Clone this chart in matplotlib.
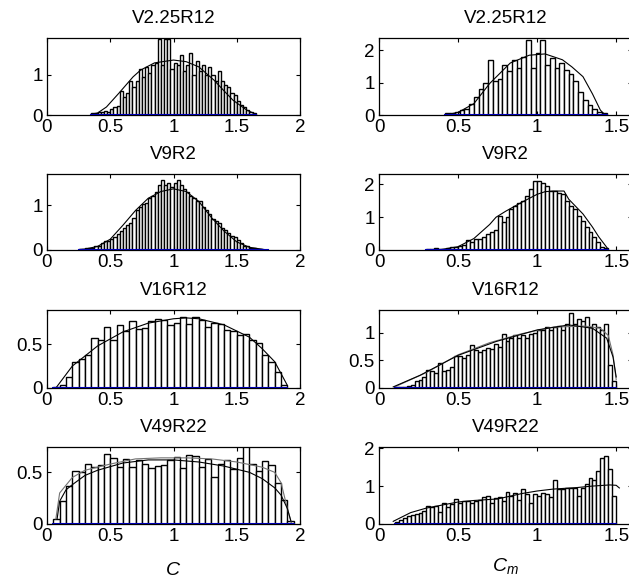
import numpy as np
import matplotlib
matplotlib.use("Agg")
import matplotlib.pyplot as plt
from matplotlib.ticker import FuncFormatter

plt.rcParams['font.family'] = ['Liberation Sans', 'DejaVu Sans']
plt.rcParams['font.size'] = 13.5
plt.rcParams['mathtext.fontset'] = 'custom'
plt.rcParams['mathtext.it'] = 'Liberation Sans:italic'
plt.rcParams['mathtext.rm'] = 'Liberation Sans'

titles = ["V2.25R12", "V9R2", "V16R12", "V49R22"]

# --- left column (C) ---
# histogram: first bin left edge, bin width, bar heights
c1_start, c1_width = 0.35, 0.025
c1_hist = [0.05, 0.05, 0.07, 0.08, 0.10, 0.08, 0.15, 0.20, 0.22, 0.60, 0.45, 0.55, 0.85,
           0.70, 0.85, 1.15, 0.95, 1.20, 1.05, 1.25, 1.30, 1.90, 1.25, 1.90, 1.90, 1.15,
           1.30, 1.25, 1.50, 1.10, 1.25, 1.55, 1.00, 1.35, 1.10, 1.25, 1.00, 1.20, 1.00,
           0.85, 1.10, 0.85, 0.75, 0.70, 0.55, 0.50, 0.35, 0.25, 0.20, 0.12, 0.08, 0.05]
c1_fit_x = [0.35, 0.40, 0.47, 0.57, 0.68, 0.74, 0.85, 1.00, 1.10, 1.20, 1.32, 1.40, 1.47, 1.58, 1.65]
c1_fit_y = [0.02, 0.05, 0.20, 0.55, 0.95, 1.12, 1.30, 1.37, 1.33, 1.20, 0.87, 0.60, 0.37, 0.12, 0.02]

c2_start, c2_width = 0.25, 0.025
c2_hist = [0.02, 0.03, 0.04, 0.05, 0.05, 0.10, 0.10, 0.15, 0.20, 0.20, 0.25, 0.30, 0.35,
           0.42, 0.48, 0.55, 0.60, 0.72, 0.90, 0.95, 1.02, 1.05, 1.15, 1.20, 1.30, 1.45,
           1.55, 1.45, 1.50, 1.40, 1.50, 1.55, 1.45, 1.35, 1.30, 1.20, 1.15, 1.10, 1.08,
           0.95, 0.88, 0.80, 0.70, 0.65, 0.60, 0.50, 0.45, 0.38, 0.32, 0.30, 0.22, 0.15,
           0.10, 0.08, 0.05, 0.04, 0.03, 0.02, 0.01, 0.01]
c2_fit_x = [0.25, 0.30, 0.40, 0.50, 0.60, 0.70, 0.80, 0.90, 1.00, 1.10, 1.20, 1.30, 1.40, 1.45, 1.50, 1.60, 1.72]
c2_fit_y = [0.01, 0.02, 0.08, 0.24, 0.55, 0.88, 1.15, 1.30, 1.36, 1.30, 1.08, 0.72, 0.42, 0.30, 0.18, 0.06, 0.01]

c3_start, c3_width = 0.05, 0.05
c3_hist = [0.01, 0.03, 0.12, 0.30, 0.33, 0.38, 0.57, 0.55, 0.70, 0.55, 0.72, 0.65, 0.77,
           0.67, 0.69, 0.77, 0.79, 0.78, 0.72, 0.74, 0.81, 0.73, 0.81, 0.78, 0.70, 0.74,
           0.73, 0.66, 0.65, 0.60, 0.62, 0.55, 0.51, 0.38, 0.30, 0.18, 0.03]
c3_fit_x = [0.07, 0.20, 0.40, 0.60, 0.80, 1.00, 1.10, 1.20, 1.40, 1.60, 1.70, 1.80, 1.90]
c3_fit_y = [0.00, 0.25, 0.48, 0.64, 0.74, 0.79, 0.80, 0.79, 0.72, 0.58, 0.45, 0.30, 0.03]

c4_start, c4_width = 0.05, 0.05
c4_hist = [0.05, 0.22, 0.37, 0.51, 0.50, 0.58, 0.55, 0.57, 0.68, 0.64, 0.55, 0.63, 0.55,
           0.62, 0.58, 0.54, 0.56, 0.57, 0.62, 0.65, 0.54, 0.67, 0.66, 0.55, 0.63, 0.45,
           0.58, 0.62, 0.53, 0.64, 0.78, 0.58, 0.51, 0.61, 0.57, 0.40, 0.23, 0.03]
c4_fit_x = [0.08, 0.10, 0.15, 0.20, 0.30, 0.40, 0.60, 0.80, 1.00, 1.20, 1.40, 1.60, 1.70, 1.80, 1.85, 1.90, 1.93]
c4_fit_y = [0.05, 0.22, 0.33, 0.38, 0.47, 0.52, 0.59, 0.62, 0.62, 0.60, 0.56, 0.50, 0.44, 0.35, 0.28, 0.15, 0.02]
c4_est_x = [0.07, 0.10, 0.20, 0.30, 0.50, 0.70, 0.90, 1.10, 1.30, 1.50, 1.70, 1.80, 1.85, 1.90, 1.93]
c4_est_y = [0.05, 0.30, 0.45, 0.52, 0.58, 0.63, 0.64, 0.64, 0.63, 0.60, 0.55, 0.50, 0.40, 0.15, 0.02]

# --- right column (C_m) ---
m1_start, m1_width = 0.42, 0.03
m1_hist = [0.05, 0.06, 0.10, 0.15, 0.20, 0.35, 0.55, 0.80, 1.00, 1.70, 1.05, 1.10, 1.55,
           1.35, 1.70, 1.45, 1.80, 2.30, 1.45, 1.90, 2.30, 1.55, 1.75, 1.45, 1.60, 1.40,
           1.25, 1.05, 0.70, 0.45, 0.30, 0.20, 0.10, 0.05]
m1_fit_x = [0.42, 0.50, 0.60, 0.70, 0.83, 0.95, 1.05, 1.16, 1.22, 1.29, 1.35, 1.40, 1.43]
m1_fit_y = [0.00, 0.08, 0.35, 0.97, 1.60, 1.84, 1.88, 1.70, 1.48, 1.18, 0.65, 0.15, 0.00]

m2_start, m2_width = 0.30, 0.025
m2_hist = [0.02, 0.02, 0.05, 0.02, 0.03, 0.05, 0.10, 0.08, 0.12, 0.15, 0.30, 0.25, 0.35,
           0.35, 0.40, 0.50, 0.55, 0.60, 1.05, 0.85, 1.00, 1.25, 1.35, 1.45, 1.50, 1.65,
           1.85, 2.10, 2.10, 2.05, 1.95, 1.80, 1.80, 1.75, 1.70, 1.50, 1.35, 1.25, 1.05,
           0.90, 0.70, 0.55, 0.40, 0.25, 0.10, 0.05]
m2_fit_x = [0.35, 0.40, 0.50, 0.60, 0.70, 0.74, 0.80, 0.90, 1.00, 1.05, 1.10, 1.17, 1.20, 1.29, 1.35, 1.39, 1.45]
m2_fit_y = [0.00, 0.02, 0.10, 0.35, 0.78, 1.00, 1.18, 1.45, 1.70, 1.78, 1.80, 1.80, 1.55, 1.10, 0.70, 0.40, 0.02]

m3_start, m3_width = 0.10, 0.025
m3_hist = [0.01, 0.02, 0.02, 0.03, 0.06, 0.12, 0.15, 0.20, 0.32, 0.30, 0.28, 0.45, 0.30,
           0.32, 0.38, 0.58, 0.58, 0.55, 0.60, 0.78, 0.68, 0.65, 0.68, 0.72, 0.70, 0.80,
           0.75, 0.98, 0.85, 0.90, 0.95, 0.90, 0.95, 0.90, 0.98, 1.00, 1.05, 1.05, 1.10,
           1.05, 1.10, 1.12, 1.05, 1.15, 1.35, 1.15, 1.25, 1.22, 1.28, 1.10, 1.15, 1.10,
           1.05, 1.15, 0.42, 0.12]
m3_fit_x = [0.09, 0.26, 0.50, 0.74, 1.00, 1.20, 1.35, 1.44, 1.48, 1.50]
m3_fit_y = [0.02, 0.23, 0.59, 0.84, 1.05, 1.14, 1.08, 0.90, 0.56, 0.20]
m3_est_x = [0.10, 0.30, 0.50, 0.70, 0.90, 1.10, 1.30, 1.40, 1.45, 1.48, 1.50]
m3_est_y = [0.02, 0.28, 0.60, 0.82, 0.98, 1.10, 1.12, 1.08, 0.95, 0.60, 0.15]

m4_start, m4_width = 0.10, 0.025
m4_hist = [0.05, 0.10, 0.17, 0.20, 0.23, 0.27, 0.30, 0.35, 0.47, 0.45, 0.48, 0.32, 0.56,
           0.45, 0.52, 0.65, 0.55, 0.60, 0.60, 0.55, 0.60, 0.62, 0.70, 0.75, 0.55, 0.68,
           0.72, 0.60, 0.85, 0.75, 0.82, 0.62, 0.92, 0.80, 0.55, 0.80, 0.75, 0.82, 0.78,
           0.70, 1.15, 0.92, 0.92, 0.95, 0.95, 0.95, 0.75, 0.95, 1.05, 1.20, 1.15, 1.40,
           1.75, 1.80, 1.45, 0.75]
m4_fit_x = [0.09, 0.20, 0.30, 0.40, 0.50, 0.60, 0.75, 0.90, 1.00, 1.10, 1.25, 1.35, 1.46, 1.50, 1.52]
m4_fit_y = [0.07, 0.30, 0.42, 0.50, 0.58, 0.62, 0.66, 0.80, 0.87, 0.92, 0.96, 1.00, 1.03, 1.02, 0.95]

left_panels = [
    (c1_start, c1_width, c1_hist, c1_fit_x, c1_fit_y, None, None, 1.92),
    (c2_start, c2_width, c2_hist, c2_fit_x, c2_fit_y, None, None, 1.69),
    (c3_start, c3_width, c3_hist, c3_fit_x, c3_fit_y, None, None, 0.89),
    (c4_start, c4_width, c4_hist, c4_fit_x, c4_fit_y, c4_est_x, c4_est_y, 0.745),
]
right_panels = [
    (m1_start, m1_width, m1_hist, m1_fit_x, m1_fit_y, None, None, 2.37),
    (m2_start, m2_width, m2_hist, m2_fit_x, m2_fit_y, None, None, 2.32),
    (m3_start, m3_width, m3_hist, m3_fit_x, m3_fit_y, m3_est_x, m3_est_y, 1.41),
    (m4_start, m4_width, m4_hist, m4_fit_x, m4_fit_y, None, None, 2.03),
]
left_yticks = [[0, 1], [0, 1], [0, 0.5], [0, 0.5]]
right_yticks = [[0, 1, 2], [0, 1, 2], [0, 0.5, 1], [0, 1, 2]]

fig = plt.figure(figsize=(6.29, 5.82), dpi=100)
W, H = 629.0, 582.0
row_px = [(38, 115), (174, 250), (310, 388), (447, 524)]
fmt = FuncFormatter(lambda v, p: "%g" % v)


def draw(ax, panel, xmax, yticks, title):
    start, width, hist, fx, fy, ex, ey, ymax = panel
    centers = start + width * (np.arange(len(hist)) + 0.5)
    ax.bar(centers, hist, width=width, color='white', edgecolor='black', linewidth=1.0)
    if ex is not None:
        ax.plot(ex, ey, color='0.45', linewidth=0.8)
    ax.plot(fx, fy, color='black', linewidth=0.8)
    ax.plot([centers[0] - width / 2, centers[-1] + width / 2], [0, 0], color='#0000cc', linewidth=1.5)
    # ticks first, limits after (set_xticks widens the view)
    ax.set_xticks([t for t in [0, 0.5, 1, 1.5, 2] if t <= xmax])
    ax.set_yticks(yticks)
    ax.set_xlim(0, xmax)
    ax.set_ylim(0, ymax)
    ax.xaxis.set_major_formatter(fmt)
    ax.yaxis.set_major_formatter(fmt)
    ax.tick_params(direction='in', length=3, top=True, right=True, labelsize=13.5, pad=3)
    for s in ax.spines.values():
        s.set_linewidth(0.9)
    ax.set_title(title, fontsize=13.5, pad=11)


for i in range(4):
    top, bot = row_px[i]
    axl = fig.add_axes([47 / W, 1 - bot / H, 253 / W, (bot - top) / H])
    draw(axl, left_panels[i], 2.0, left_yticks[i], titles[i])
    axr = fig.add_axes([379 / W, 1 - bot / H, 253 / W, (bot - top) / H])
    draw(axr, right_panels[i], 1.6, right_yticks[i], titles[i])
    if i == 3:
        axl.set_xlabel('$C$', fontsize=14, labelpad=12)
        axr.set_xlabel('$C_m$', fontsize=14, labelpad=8)

fig.savefig('out.png', dpi=100)
